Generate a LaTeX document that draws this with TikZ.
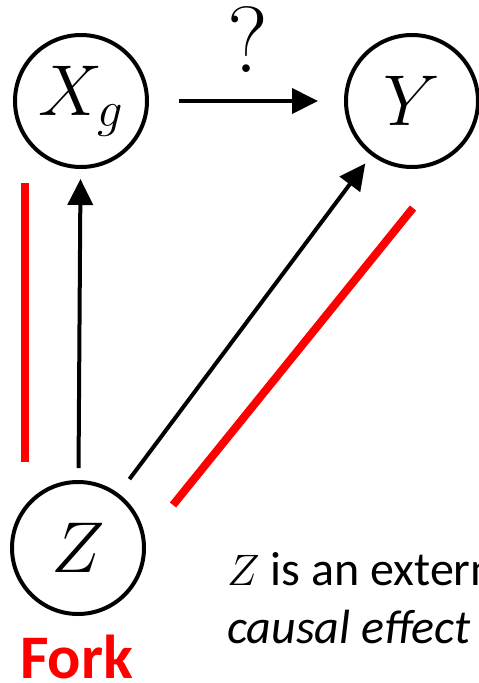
\RequirePackage{fix-cm}
\documentclass[tikz,border=0pt]{standalone}
\usepackage{fontspec}
\setmainfont{Carlito}
\usetikzlibrary{arrows.meta}
\begin{document}
\begin{tikzpicture}[x=1pt,y=-1pt,
  var/.style={circle,draw,line width=4pt,minimum size=132pt,inner sep=0pt,
    font=\fontsize{72}{80}\selectfont},
  arr/.style={line width=4pt,-{Triangle[length=26pt,width=25pt]}},
  redline/.style={draw=red,line width=8pt}]
\useasboundingbox (0,0) rectangle (479,683);
\clip (0,0) rectangle (479,683);
\node[var] (X) at (81,101) {$X_g$};
\node[var] (Y) at (412,101) {$Y$};
\node[var] (Z) at (78,548) {$Z$};
\draw[arr,shorten <=30pt,shorten >=26pt] (X) -- (Y);
\node[font=\fontsize{94}{94}\selectfont,inner sep=0pt,anchor=base] (q) at (248,72) {$?$};
\draw[arr,shorten <=12pt,shorten >=10pt] (Z) -- (X);
\draw[arr,shorten <=18pt,shorten >=10pt] (Z) -- (Y);
\coordinate (r1a) at (25,183);
\coordinate (r1b) at (25,462);
\coordinate (r2a) at (413,208);
\coordinate (r2b) at (173,505);
\draw[redline] (r1a) -- (r1b);
\draw[redline] (r2a) -- (r2b);
\node[anchor=base west,inner sep=0pt,font=\fontsize{48}{48}\selectfont] (t1) at (227,585) {{\fontsize{44}{44}\selectfont$Z$} is an external};
\node[anchor=base west,inner sep=0pt,font=\fontsize{48}{48}\selectfont\itshape] (t2) at (227,643) {causal effect};
\node[anchor=base west,inner sep=0pt,text=red,font=\fontsize{62}{62}\selectfont\bfseries] (fork) at (20,678) {Fork};
\end{tikzpicture}
\end{document}
